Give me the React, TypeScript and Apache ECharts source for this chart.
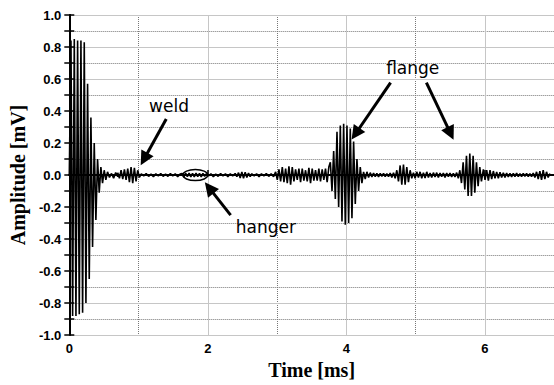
import React, { useEffect, useRef } from 'react';
import * as echarts from 'echarts';

// ---- axis ranges ----
const X_MIN = 0;
const X_MAX = 7;
const Y_MIN = -1;
const Y_MAX = 1;

// ---- waveform (mV) ----
const mainBang = [0, 0.84, -0.88, 0.85, -0.88, 0.84, -0.87, 0.84, -0.86, 0.83, -0.8, 0.57, -0.65, 0.36, -0.45, 0.2, -0.28, 0.1, -0.11, 0.05, -0.05, 0.03, -0.03, 0.02];
const quiet0 = [-0.015, 0.01, -0.02, 0.015, -0.01];
const weldEcho = [0.015, -0.02, 0.03, -0.025, 0.035, -0.03, 0.04, -0.045, 0.05, -0.05, 0.045, -0.04, 0.03, -0.015];
const quiet1 = [0.008, -0.006, 0.01, -0.008, 0.006, -0.01, 0.008, -0.006, 0.01, -0.008, 0.006, -0.008, 0.01, -0.006, 0.008, -0.01, 0.006];
const hangerEcho = [0.01, -0.012, 0.012, -0.01, 0.012, -0.012, 0.01, -0.012, 0.012, -0.01, 0.01, -0.012, 0.01, -0.008, 0.008];
const quiet2 = [-0.006, 0.008, -0.01, 0.006, -0.008, 0.01, -0.006, 0.008, -0.01, 0.008, -0.006, 0.01];
const smallBump = [-0.01, 0.015, -0.018, 0.02, -0.02, 0.018, -0.015, 0.012, -0.01, 0.008];
const quiet3 = [-0.006, 0.008, -0.01, 0.008, -0.006, 0.01, -0.008, 0.008, -0.01];
const preFlange = [0.02, -0.03, 0.035, -0.04, 0.05, -0.045, 0.04, -0.05, 0.055, -0.06, 0.05, -0.04, 0.035, -0.03, 0.04, -0.045, 0.04, -0.035, 0.03, -0.04, 0.045, -0.05, 0.04, -0.035, 0.03, -0.035, 0.04, -0.04, 0.035, -0.03, 0.04, -0.045, 0.05];
const flangeEcho1 = [0.08, -0.1, 0.15, -0.15, 0.27, -0.2, 0.31, -0.29, 0.32, -0.31, 0.31, -0.3, 0.29, -0.27, 0.21, -0.18, 0.1, -0.1, 0.05, -0.05];
const ringing1 = [0.02, -0.025, 0.02, -0.015, 0.015, -0.012, 0.012, -0.01, 0.01, -0.012, 0.01, -0.008, 0.01, -0.01, 0.008, -0.01, 0.012, -0.015, 0.015, -0.02];
const midEcho = [0.03, -0.04, 0.06, -0.06, 0.065, -0.06, 0.05, -0.045, 0.03, -0.02];
const quiet4 = [0.015, -0.02, 0.02, -0.015, 0.02, -0.02, 0.015, -0.018, 0.02, -0.015, 0.012, -0.015, 0.015, -0.012, 0.015, -0.015, 0.012, -0.01, 0.012, -0.015, 0.012, -0.01, 0.012, -0.012, 0.01, -0.012, 0.015, -0.02];
const flangeEcho2 = [0.03, -0.05, 0.08, -0.09, 0.12, -0.13, 0.135, -0.13, 0.12, -0.11, 0.08, -0.07, 0.05, -0.04];
const ringing2 = [0.035, -0.03, 0.03, -0.035, 0.03, -0.025, 0.025, -0.02, 0.02, -0.02, 0.018, -0.015, 0.015, -0.015, 0.012, -0.012, 0.01, -0.012, 0.01, -0.01, 0.012, -0.01, 0.008, -0.01, 0.01, -0.008, 0.01, -0.01, 0.008, -0.01, 0.012, -0.015, 0.02, -0.025, 0.025, -0.03, 0.03, -0.025, 0.02, -0.015, 0.01];

// start time (ms) and spacing (ms) of the extrema in each segment
const segmentStarts = [0, 0.58, 0.7, 1.04, 1.63, 2.01, 2.42, 2.67, 2.98, 3.77, 4.25, 4.73, 4.97, 5.64, 5.98];
const segmentSteps = [0.024, 0.03, 0.024, 0.035, 0.025, 0.035, 0.024, 0.035, 0.024, 0.024, 0.024, 0.024, 0.024, 0.024, 0.024];
const segmentValues = [mainBang, quiet0, weldEcho, quiet1, hangerEcho, quiet2, smallBump, quiet3, preFlange, flangeEcho1, ringing1, midEcho, quiet4, flangeEcho2, ringing2];

// ---- annotations (data coordinates: ms, mV) ----
const annotationTexts = ['weld', 'hanger', 'flange'];
const annotationAnchors: [number, number][] = [[1.44, 0.43], [2.84, -0.325], [4.96, 0.67]];
const arrowTails: [number, number][] = [[1.4, 0.35], [2.33, -0.25], [4.64, 0.577], [5.157, 0.577]];
const arrowHeads: [number, number][] = [[1.08, 0.1], [2.02, -0.08], [4.134, 0.258], [5.506, 0.26]];
const hangerMark: [number, number] = [1.82, 0];

export default function App() {
  const ref = useRef<HTMLDivElement>(null);

  useEffect(() => {
    document.body.style.margin = '0';
    const chart = echarts.init(ref.current!, null, { renderer: 'svg' });

    const points: [number, number][] = [];
    segmentValues.forEach((vals, s) => {
      vals.forEach((v, i) => points.push([segmentStarts[s] + i * segmentSteps[s], v]));
    });

    const tickFont = { fontFamily: 'Liberation Sans', fontWeight: 'bold' as const, fontSize: 13, color: '#000' };
    const nameFont = { fontFamily: 'Liberation Serif', fontWeight: 'bold' as const, fontSize: 20, color: '#000' };
    const dotted = { color: '#777777', width: 1, type: [1, 1] as any };
    const solidGrid = { color: '#c6c6c6', width: 1, type: 'solid' as const };

    chart.setOption({
      animation: false,
      grid: { left: 67, top: 15, width: 489, height: 323 },
      xAxis: [
        {
          type: 'value', position: 'bottom', min: X_MIN, max: X_MAX, interval: 2, z: 1,
          axisLine: { show: true, lineStyle: { color: '#000', width: 2 } },
          axisTick: { show: true, inside: true, length: 5, lineStyle: { color: '#000', width: 1.5 } },
          axisLabel: { ...tickFont, margin: 7, showMaxLabel: false, formatter: (v: number) => String(v) },
          splitLine: { show: true, lineStyle: solidGrid },
          name: 'Time [ms]', nameLocation: 'middle', nameGap: 22, nameTextStyle: nameFont,
        },
        {
          type: 'value', position: 'top', min: X_MIN, max: X_MAX, interval: 1, z: 0,
          axisLine: { show: true, lineStyle: { color: '#000', width: 2 } },
          axisTick: { show: false },
          axisLabel: { show: false },
          splitLine: { show: true, lineStyle: dotted },
        },
      ],
      yAxis: [
        {
          type: 'value', position: 'left', min: Y_MIN, max: Y_MAX, interval: 0.2, z: 1,
          axisLine: { show: true, lineStyle: { color: '#000', width: 2 } },
          axisTick: { show: true, inside: true, length: 5, lineStyle: { color: '#000', width: 1.5 } },
          minorTick: { show: true, splitNumber: 2, length: 5, lineStyle: { color: '#000', width: 1.5 } },
          axisLabel: { ...tickFont, margin: 8, formatter: (v: number) => (Math.abs(v) < 1e-9 ? '0.0' : v.toFixed(1)) },
          splitLine: { show: true, lineStyle: solidGrid },
          name: 'Amplitude [mV]', nameLocation: 'middle', nameRotate: 90, nameGap: 39, nameTextStyle: nameFont,
        },
        {
          type: 'value', position: 'right', min: Y_MIN, max: Y_MAX, interval: 0.1, z: 0,
          axisLine: { show: true, lineStyle: { color: '#000', width: 2 } },
          axisTick: { show: true, inside: true, length: 5, lineStyle: { color: '#000', width: 1.5 } },
          axisLabel: { show: false },
          splitLine: { show: true, lineStyle: dotted },
        },
      ],
      series: [
        {
          type: 'line', xAxisIndex: 0, yAxisIndex: 0, z: 3,
          data: points, showSymbol: false, symbol: 'none', silent: true,
          lineStyle: { color: '#000', width: 1.6 },
          markLine: {
            silent: true, animation: false,
            symbol: ['none', 'triangle'], symbolSize: 14,
            label: { show: false },
            lineStyle: { color: '#000', width: 3, type: 'solid' },
            itemStyle: { color: '#000' },
            emphasis: { disabled: true },
            data: arrowTails.map((t, i) => [{ coord: t }, { coord: arrowHeads[i] }]),
          },
        },
      ],
    });

    const toPx = (p: [number, number]) => chart.convertToPixel({ seriesIndex: 0 }, p) as number[];
    const graphics: any[] = annotationTexts.map((txt, i) => {
      const [x, y] = toPx(annotationAnchors[i]);
      return {
        type: 'text', x, y, z: 10,
        style: { text: txt, fontFamily: 'DejaVu Sans', fontSize: 17, fill: '#000', textAlign: 'center', textVerticalAlign: 'middle' },
      };
    });
    const [ex, ey] = toPx(hangerMark);
    graphics.push({
      type: 'ellipse', z: 10,
      shape: { cx: ex, cy: ey, rx: 12.5, ry: 5.5 },
      style: { fill: 'none', stroke: '#000', lineWidth: 1.5 },
    });
    chart.setOption({ graphic: graphics });

    return () => chart.dispose();
  }, []);

  return <div ref={ref} style={{ width: 554, height: 385 }} />;
}
